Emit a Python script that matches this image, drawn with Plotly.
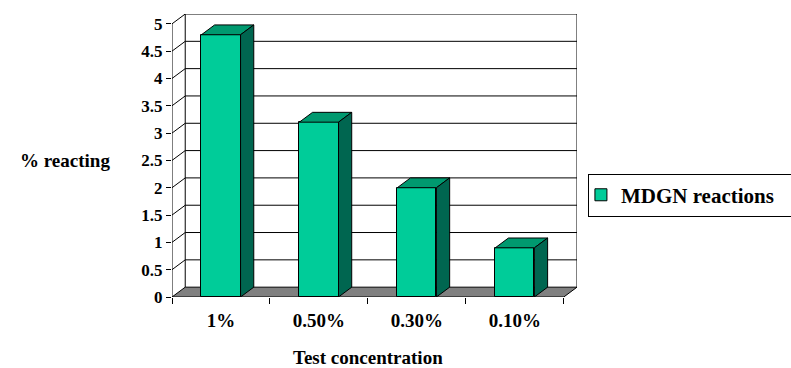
import plotly.graph_objects as go

# Data
categories = ["1%", "0.50%", "0.30%", "0.10%"]
mdgn_reactions = [4.8, 3.2, 2.0, 0.9]
y_ticks = [0, 0.5, 1, 1.5, 2, 2.5, 3, 3.5, 4, 4.5, 5]
series_name = "MDGN reactions"
y_label = "% reacting"
x_label = "Test concentration"

# Pseudo-3D look: depth offset of the back wall, in axis units
DX = 0.135
DY = 0.18
BAR_W = 0.4
Y_MAX = 5

FRONT = "#00CC99"
TOP = "#00996F"
SIDE = "#006650"
FLOOR = "#808080"
FONT = "Liberation Serif"

xs = list(range(len(categories)))
x_lo, x_hi = -0.5, len(categories) - 0.5


def bfont(size):
    return dict(family=FONT, size=size, color="black", weight="bold")


fig = go.Figure()

# Front faces of the bars
fig.add_trace(go.Bar(
    x=xs, y=mdgn_reactions, width=BAR_W, name=series_name,
    marker=dict(color=FRONT, line=dict(color="black", width=1)),
    showlegend=True,
))

# Top and side faces of each bar
top_x, top_y, side_x, side_y = [], [], [], []
for x, v in zip(xs, mdgn_reactions):
    l, r = x - BAR_W / 2, x + BAR_W / 2
    top_x += [l, r, r + DX, l + DX, l, None]
    top_y += [v, v, v + DY, v + DY, v, None]
    side_x += [r, r + DX, r + DX, r, r, None]
    side_y += [0, DY, v + DY, v, 0, None]

fig.add_trace(go.Scatter(x=top_x, y=top_y, mode="lines", fill="toself",
                         fillcolor=TOP, line=dict(color="black", width=1),
                         showlegend=False, hoverinfo="skip"))
fig.add_trace(go.Scatter(x=side_x, y=side_y, mode="lines", fill="toself",
                         fillcolor=SIDE, line=dict(color="black", width=1),
                         showlegend=False, hoverinfo="skip"))

# Walls, floor and gridlines (drawn beneath the bars)
shapes = []
line = dict(color="black", width=1)
shapes.append(dict(type="path", xref="x", yref="y", layer="below",
                   path=f"M{x_lo},0 L{x_hi},0 L{x_hi + DX},{DY} L{x_lo + DX},{DY} Z",
                   fillcolor=FLOOR, line=line))
for v in y_ticks:
    if v == 0:
        continue
    shapes.append(dict(type="path", xref="x", yref="y", layer="below",
                       path=f"M{x_lo},{v} L{x_lo + DX},{v + DY} L{x_hi + DX},{v + DY}",
                       line=line))
shapes.append(dict(type="line", xref="x", yref="y", layer="below",
                   x0=x_lo, y0=0, x1=x_lo, y1=Y_MAX, line=line))
shapes.append(dict(type="line", xref="x", yref="y", layer="below",
                   x0=x_lo + DX, y0=DY, x1=x_lo + DX, y1=Y_MAX + DY, line=line))
shapes.append(dict(type="line", xref="x", yref="y", layer="below",
                   x0=x_hi + DX, y0=DY, x1=x_hi + DX, y1=Y_MAX + DY, line=line))

annotations = [
    dict(text=y_label, xref="paper", yref="y", x=-0.264, y=2.5,
         xanchor="center", yanchor="middle", showarrow=False, font=bfont(19)),
    dict(text=x_label, xref="x", yref="paper", x=1.5, y=-0.214,
         xanchor="center", yanchor="middle", showarrow=False, font=bfont(19)),
]

fig.update_layout(
    width=791, height=368,
    margin=dict(l=172, r=214, t=14, b=71, autoexpand=False),
    paper_bgcolor="white", plot_bgcolor="white",
    shapes=shapes, annotations=annotations,
    bargap=0,
    legend=dict(orientation="h", x=1.027, y=0.36, xanchor="left", yanchor="middle",
                bordercolor="black", borderwidth=1, bgcolor="white",
                entrywidth=240, entrywidthmode="pixels",
                indentation=-8, font=bfont(21)),
    xaxis=dict(range=[x_lo, x_hi + DX], tickvals=xs, ticktext=categories,
               ticks="", showgrid=False, zeroline=False, showline=False,
               ticklabelstandoff=10, tickfont=bfont(19),
               minor=dict(tickvals=[x_lo + i for i in range(len(categories) + 1)],
                          ticks="outside", ticklen=6, tickcolor="black",
                          tickwidth=1, showgrid=False)),
    yaxis=dict(range=[0, Y_MAX + DY], tickvals=y_ticks, ticks="outside",
               ticklen=5, tickcolor="black", showgrid=False, zeroline=False,
               showline=False, tickfont=bfont(17)),
)

fig.write_html("out.html")
